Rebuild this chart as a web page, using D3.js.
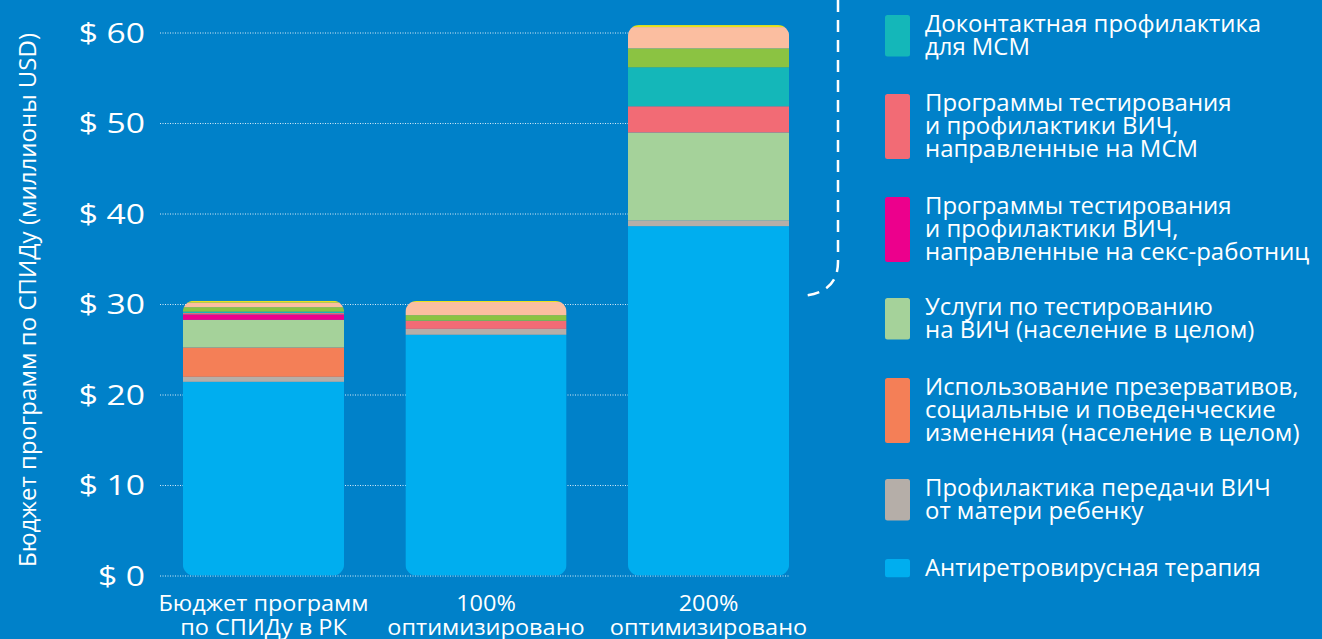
<!DOCTYPE html>
<html>
<head>
<meta charset="utf-8">
<script src="https://cdn.jsdelivr.net/npm/d3@7"></script>
<style>
  html, body { margin: 0; padding: 0; background: #0081c9; }
  svg { display: block; font-family: "Open Sans", "Noto Sans", sans-serif; }
</style>
</head>
<body>
<div id="chart"></div>
<script>
// categories on the x axis (two lines each)
const categories = [
  ["Бюджет программ", "по СПИДу в РК"],
  ["100%", "оптимизировано"],
  ["200%", "оптимизировано"]
];

// series, bottom to top (millions USD)
const seriesKeys = ["art", "pmtct", "condoms", "testing", "sexwork", "msmTest", "prep", "extra1", "extra2", "extra3"];
const art     = [21.4, 26.6, 38.6];
const pmtct   = [0.55, 0.65, 0.65];
const condoms = [3.25, 0, 0];
const testing = [3.05, 0, 9.7];
const sexwork = [0.6, 0, 0];
const msmTest = [0.15, 0.9, 2.9];
const prep    = [0.15, 0, 4.3];
const extra1  = [0.5, 0.62, 2.1];   // legend entries for the top three are outside the crop
const extra2  = [0.5, 1.45, 2.35];
const extra3  = [0.2, 0.12, 0.22];

const colors = {
  art: "#00aeef", pmtct: "#b5aea8", condoms: "#f47f57", testing: "#a5d29a",
  sexwork: "#ec008c", msmTest: "#f26b75", prep: "#14b7b9",
  extra1: "#8bc342", extra2: "#fbbea0", extra3: "#e9e21c"
};

// legend, top to bottom
const legendKeys = ["prep", "msmTest", "sexwork", "testing", "condoms", "pmtct", "art"];
const legendLabels = [
  ["Доконтактная профилактика", "для МСМ"],
  ["Программы тестирования", "и профилактики ВИЧ,", "направленные на МСМ"],
  ["Программы тестирования", "и профилактики ВИЧ,", "направленные на секс-работниц"],
  ["Услуги по тестированию", "на ВИЧ (население в целом)"],
  ["Использование презервативов,", "социальные и поведенческие", "изменения (население в целом)"],
  ["Профилактика передачи ВИЧ", "от матери ребенку"],
  ["Антиретровирусная терапия"]
];
const yTicks = [0, 10, 20, 30, 40, 50, 60];
const yTitle = "Бюджет программ по СПИДу (миллионы USD)";

const W = 1322, H = 639;
const svg = d3.select("#chart").append("svg").attr("width", W).attr("height", H);
svg.append("rect").attr("width", W).attr("height", H).attr("fill", "#0081c9");

const src = { art, pmtct, condoms, testing, sexwork, msmTest, prep, extra1, extra2, extra3 };
const table = categories.map((c, i) => {
  const row = { i };
  seriesKeys.forEach(k => row[k] = src[k][i]);
  return row;
});

const x = d3.scaleBand().domain(d3.range(categories.length))
  .range([160, 812]).paddingInner(0.276).paddingOuter(0.103);
const y = d3.scaleLinear().domain([0, 60]).range([575.5, 32.5]);

// dotted gridlines
svg.append("g").selectAll("line").data(yTicks).join("line")
  .attr("x1", 160).attr("x2", x(2) + x.bandwidth())
  .attr("y1", d => y(d) + 0.5).attr("y2", d => y(d) + 0.5)
  .attr("stroke", "#fff").attr("stroke-opacity", 0.85)
  .attr("stroke-width", 1).attr("stroke-dasharray", "1,1.5");

// tick labels (the source face is wider than Open Sans, so stretch a bit)
svg.append("g").selectAll("text").data(yTicks).join("text")
  .attr("transform", d => `translate(145,${y(d)}) scale(1.2,1)`)
  .attr("dy", "0.36em").attr("text-anchor", "end")
  .attr("fill", "#fff").attr("font-size", 28)
  .text(d => "$ " + d);

// y axis title
svg.append("text")
  .attr("transform", `translate(36,300) rotate(-90)`)
  .attr("text-anchor", "middle").attr("fill", "#fff").attr("font-size", 24)
  .text(yTitle);

// stacked bars, each clipped to a rounded rect
const stacked = d3.stack().keys(seriesKeys)(table);
const totals = table.map(r => d3.sum(seriesKeys, k => r[k]));

const defs = svg.append("defs");
categories.forEach((c, i) => {
  defs.append("clipPath").attr("id", "bar" + i).append("rect")
    .attr("x", x(i)).attr("width", x.bandwidth())
    .attr("y", y(totals[i])).attr("height", y(0) - y(totals[i]))
    .attr("rx", 11).attr("ry", 11);
});

const bars = svg.append("g");
categories.forEach((c, i) => {
  bars.append("g").attr("clip-path", `url(#bar${i})`)
    .selectAll("rect").data(stacked.filter(s => s[i][1] - s[i][0] > 0)).join("rect")
    .attr("x", x(i)).attr("width", x.bandwidth())
    .attr("y", s => y(s[i][1])).attr("height", s => y(s[i][0]) - y(s[i][1]))
    .attr("fill", s => colors[s.key]);
});

// x labels
const xl = svg.append("g").selectAll("text").data(categories).join("text")
  .attr("transform", (d, i) => `translate(${x(i) + x.bandwidth() / 2},611) scale(1.12,1)`)
  .attr("text-anchor", "middle")
  .attr("fill", "#fff").attr("font-size", 21);
xl.selectAll("tspan").data(d => d).join("tspan")
  .attr("x", 0).attr("y", (d, j) => j * 24)
  .text(d => d);

// dashed connector to legend
svg.append("path")
  .attr("d", "M838,0 V262 Q838,293 802,296")
  .attr("fill", "none").attr("stroke", "#fff").attr("stroke-width", 2.5)
  .attr("stroke-dasharray", "12,8");

// legend
const lineH = 23.3;
const legendTops = [15, 94, 197, 298, 378, 479, 559];
const lg = svg.append("g").selectAll("g").data(legendKeys).join("g")
  .attr("transform", (d, i) => `translate(885,${legendTops[i]})`);
lg.append("rect")
  .attr("width", 25).attr("height", (d, i) => legendLabels[i].length * lineH - 5)
  .attr("rx", 2.5).attr("fill", d => colors[d]);
lg.append("text")
  .attr("transform", "translate(40,0) scale(1.04,1)")
  .attr("fill", "#fff").attr("font-size", 23)
  .selectAll("tspan").data((d, i) => legendLabels[i]).join("tspan")
  .attr("x", 0).attr("y", (d, j) => 16.5 + j * lineH)
  .text(d => d);
</script>
</body>
</html>
